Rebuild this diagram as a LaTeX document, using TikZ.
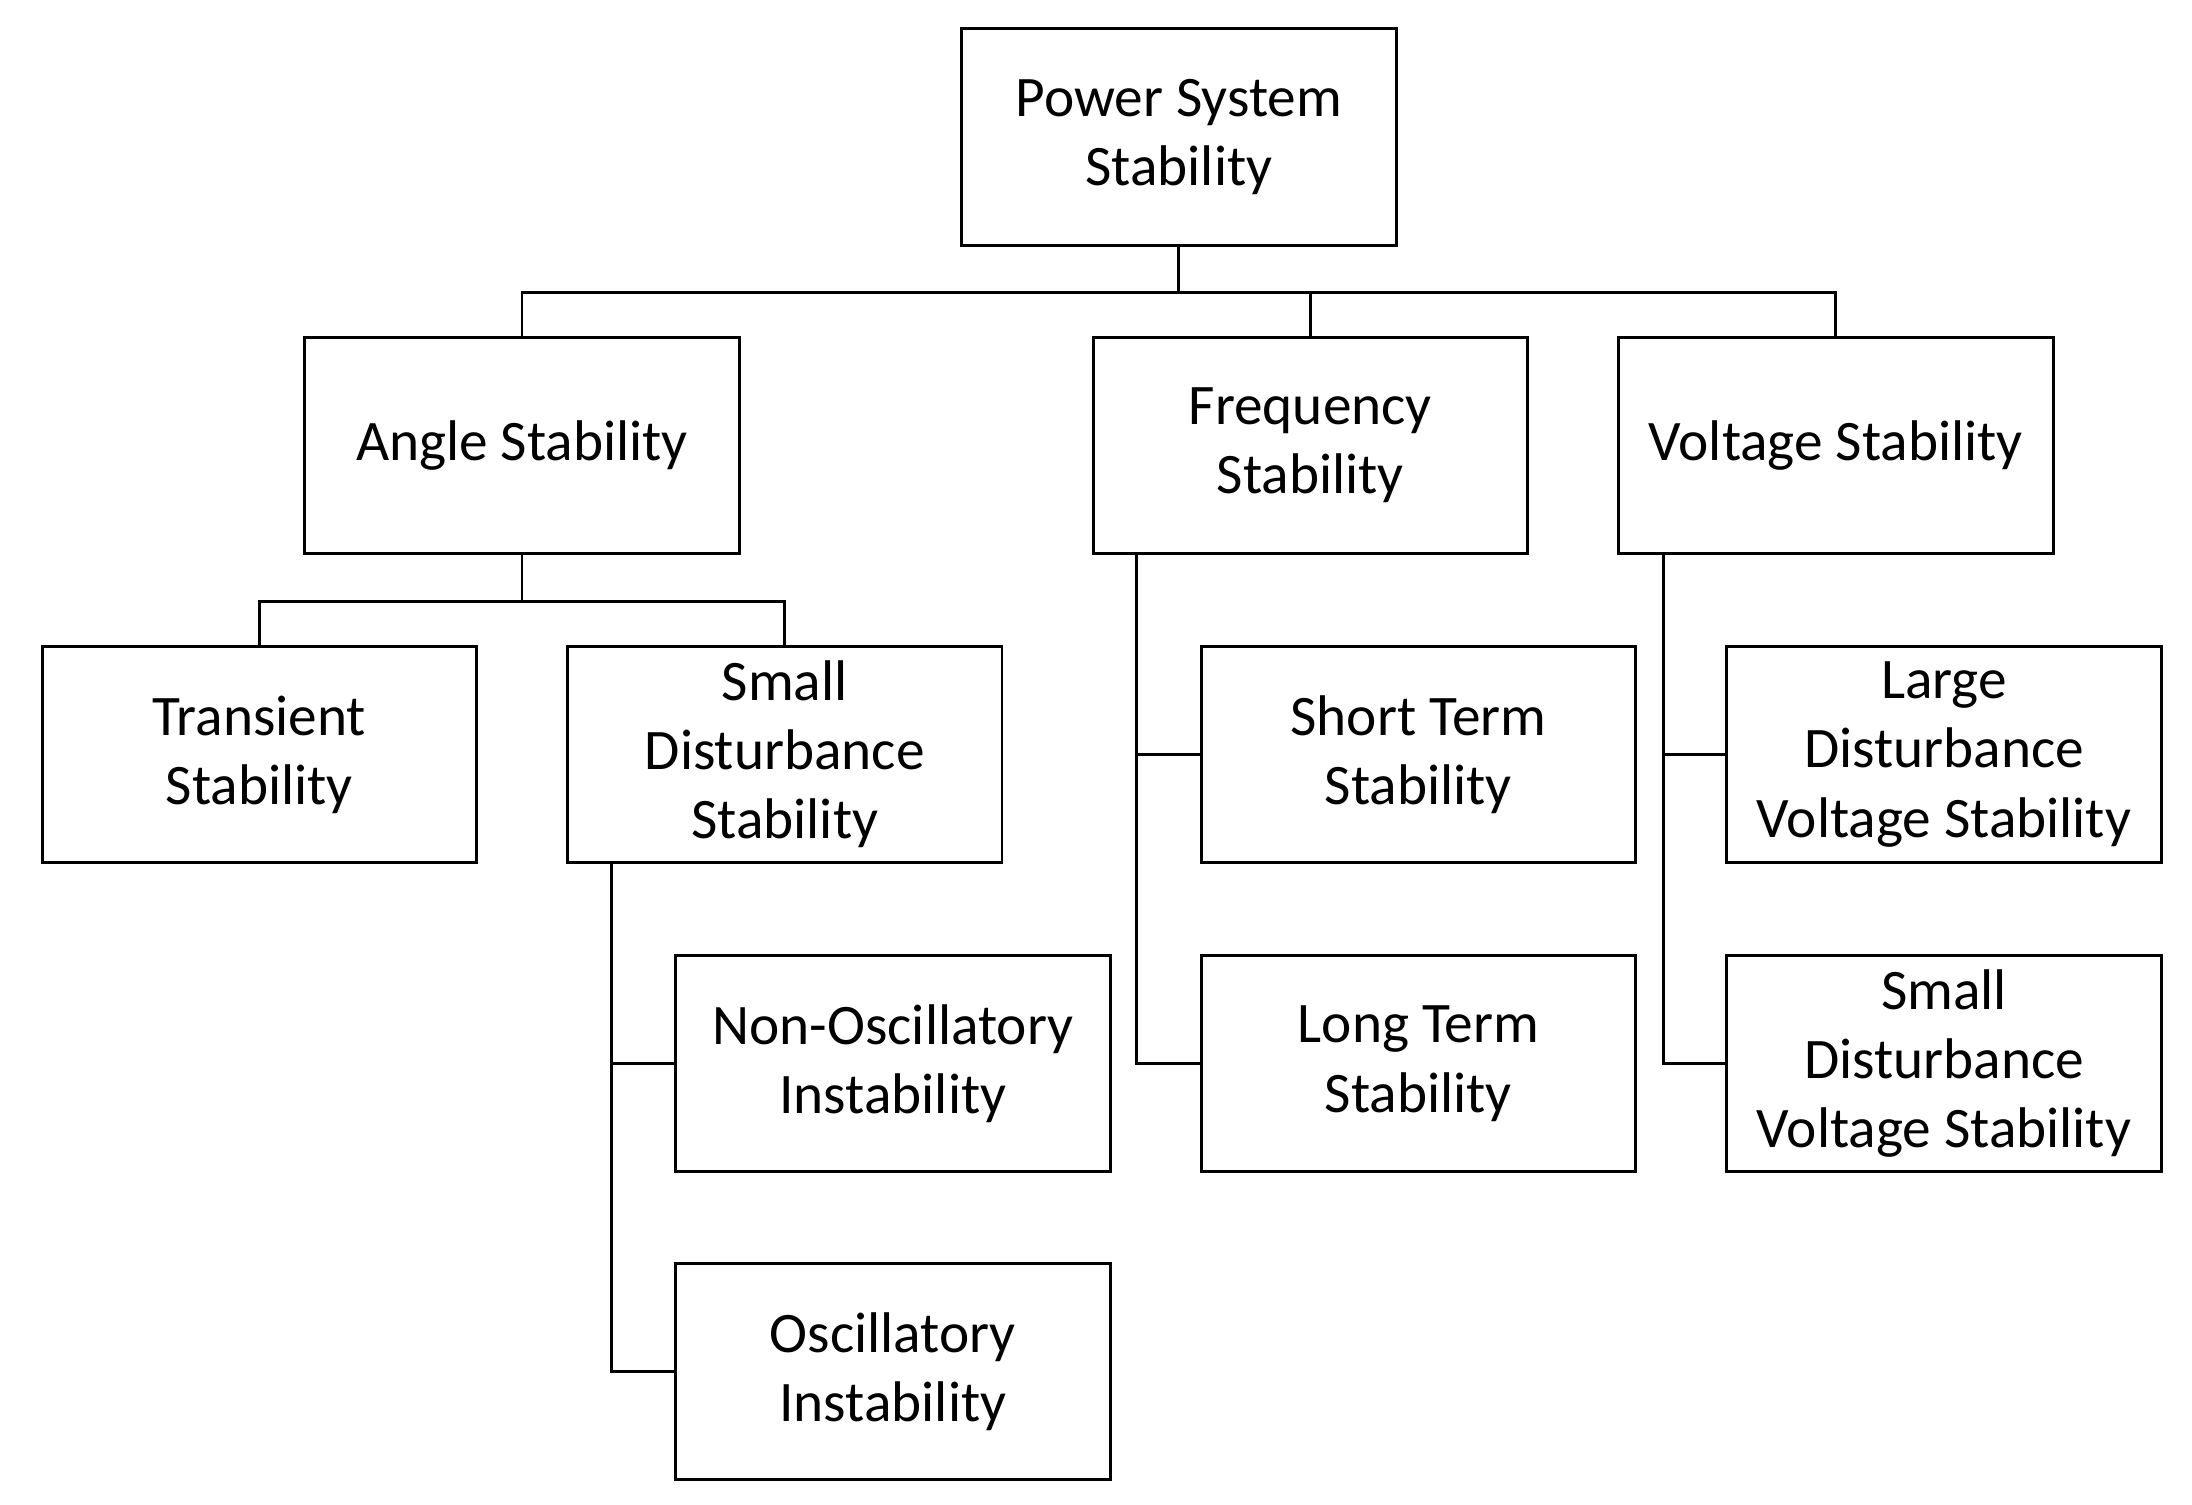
\documentclass[tikz,border=0pt]{standalone}
\usepackage{fontspec}
\setmainfont{Carlito}
\begin{document}
\begin{tikzpicture}[x=0.01cm,y=-0.01cm,line width=0.6pt,
  box/.style={draw,minimum width=3.09cm,minimum height=1.54cm,align=center,inner sep=0pt,font=\fontsize{11.6}{14}\selectfont}]
\useasboundingbox (0,0) rectangle (1560,1071);
\node[box] (pss) at (839,97.5) {Power System\\Stability};
\node[box] (ang) at (371.5,317) {Angle Stability};
\node[box] (fre) at (932.5,317) {Frequency\\Stability};
\node[box] (vol) at (1306.5,317) {Voltage Stability};
\node[box] (tra) at (184.5,537) {Transient\\Stability};
\node[box] (sds) at (558.5,537) {Small\\Disturbance\\Stability};
\node[box] (sts) at (1009.5,537) {Short Term\\Stability};
\node[box] (ldv) at (1383.5,537) {Large\\Disturbance\\Voltage Stability};
\node[box] (non) at (635.5,757) {Non-Oscillatory\\Instability};
\node[box] (lts) at (1009.5,757) {Long Term\\Stability};
\node[box] (sdv) at (1383.5,757) {Small\\Disturbance\\Voltage Stability};
\node[box] (osc) at (635.5,976) {Oscillatory\\Instability};
\coordinate (j1) at (839,208);
\draw (pss.south) -- (j1);
\draw (ang.north) |- (j1) -| (vol.north);
\draw (fre.north) -- (fre.north |- j1);
\coordinate (j2) at (371.5,428);
\draw (ang.south) -- (j2);
\draw (tra.north) |- (j2) -| (sds.north);
\coordinate (f0) at (809,394);
\draw (f0) |- (lts.west);
\draw (f0 |- sts.west) -- (sts.west);
\coordinate (v0) at (1184,394);
\draw (v0) |- (sdv.west);
\draw (v0 |- ldv.west) -- (ldv.west);
\coordinate (s0) at (435,614);
\draw (s0) |- (osc.west);
\draw (s0 |- non.west) -- (non.west);
\end{tikzpicture}
\end{document}
